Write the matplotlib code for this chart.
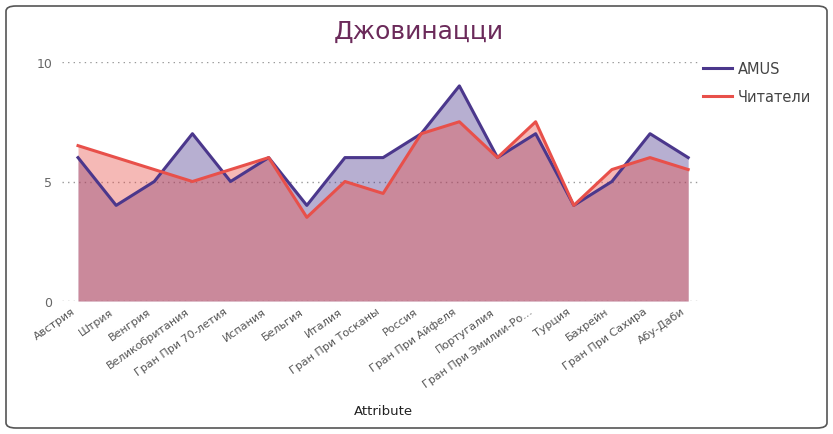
import matplotlib.pyplot as plt
import matplotlib.transforms as mtransforms
import numpy as np
from matplotlib.patches import FancyBboxPatch

categories = ["Австрия", "Штрия", "Венгрия", "Великобритания", "Гран При 70-летия",
              "Испания", "Бельгия", "Италия", "Гран При Тосканы", "Россия",
              "Гран При Айфеля", "Португалия", "Гран При Эмилии-Ро...", "Турция",
              "Бахрейн", "Гран При Сахира", "Абу-Даби"]
amus = [6, 4, 5, 7, 5, 6, 4, 6, 6, 7, 9, 6, 7, 4, 5, 7, 6]
readers = [6.5, 6, 5.5, 5, 5.5, 6, 3.5, 5, 4.5, 7, 7.5, 6, 7.5, 4, 5.5, 6, 5.5]

purple = "#4B378C"
red = "#E8504A"

fig = plt.figure(figsize=(8.33, 4.35), dpi=100)
fig.patches.append(FancyBboxPatch((6 / 833, 6 / 435), 821 / 833, 422 / 435,
                                  boxstyle="round,pad=0,rounding_size=0.012",
                                  transform=fig.transFigure, facecolor="none",
                                  edgecolor="#555555", linewidth=1.2))

ax = fig.add_axes([62 / 833, 1 - 302 / 435, 638 / 833, 239 / 435])
ax.set_facecolor("none")
x = np.arange(len(categories))

ax.fill_between(x, amus, color=purple, alpha=0.4, linewidth=0)
ax.fill_between(x, readers, color=red, alpha=0.4, linewidth=0)
ax.plot(x, amus, color=purple, linewidth=2.2, label="AMUS")
ax.plot(x, readers, color=red, linewidth=2.2, label="Читатели")

ax.set_xlim(-0.42, len(categories) - 1 + 0.31)
ax.set_ylim(0, 10)
ax.set_yticks([0, 5, 10])
ax.grid(axis="y", color="#999999", linestyle=(0, (1, 3)), linewidth=1)
ax.set_axisbelow(True)
for s in ax.spines.values():
    s.set_visible(False)
ax.tick_params(axis="both", length=0, colors="#666666")
ax.tick_params(axis="y", pad=7, labelsize=9)
ax.set_xticks(x)
ax.set_xticklabels(categories, rotation=35, ha="right", rotation_mode="anchor",
                   color="#555555", fontsize=8)
shift = mtransforms.ScaledTranslation(-5 / 72, 0, fig.dpi_scale_trans)
for lbl in ax.get_xticklabels():
    lbl.set_transform(lbl.get_transform() + shift)

ax.set_xlabel("Attribute", fontsize=9.5, color="#222222")
ax.xaxis.set_label_coords(321 / 638, -0.43)

fig.text(419 / 833, 1 - 32 / 435, "Джовинацци", ha="center", va="center",
         fontsize=18, color="#6B2A5A")

ax.legend(loc="upper left", bbox_to_anchor=(0.984, 1.06), frameon=False,
          fontsize=10.5, labelcolor="#444444", handlelength=2.0,
          handletextpad=0.4, labelspacing=0.9)

plt.savefig("out.png", dpi=100)
plt.close()
